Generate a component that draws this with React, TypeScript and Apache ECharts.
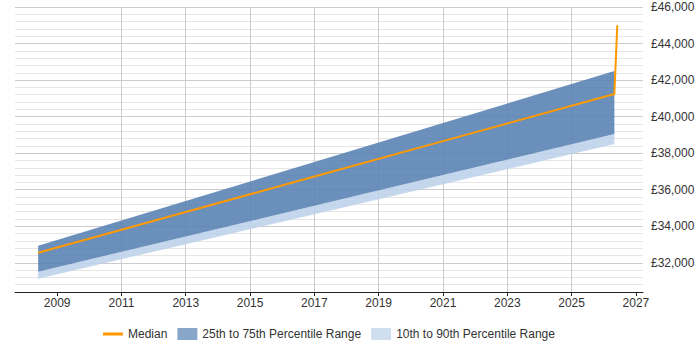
import React, { useEffect, useRef } from "react";
import * as echarts from "echarts";

// Years (fractional) at which values were read
const bandYears = [2008.41, 2013, 2017, 2021, 2026.33];
const p10 = [31130, 33020, 34660, 36300, 38500];
const p25 = [31510, 33440, 35120, 36800, 39050];
const p75 = [32930, 35380, 37520, 39650, 42500];
const p90 = [32930, 35380, 37520, 39650, 42500];

const medianYears = [2008.41, 2013, 2017, 2021, 2026.33, 2026.42];
const median = [32550, 34780, 36720, 38660, 41240, 45000];

const xTickYears = [2009, 2011, 2013, 2015, 2017, 2019, 2021, 2023, 2025, 2027];
const BASE_YEAR = 2009;
const X_MIN_YEAR = 2007.69;
const X_MAX_YEAR = 2027.22;

const Y_MIN = 30400;
const Y_MAX = 46000;

const FONT = "'Liberation Sans', Arial, sans-serif";

export default function App() {
  const ref = useRef<HTMLDivElement>(null);

  useEffect(() => {
    if (!ref.current) return;
    const chart = echarts.init(ref.current, undefined, { renderer: "svg" });
    const toX = (y: number) => +(y - BASE_YEAR).toFixed(4);

    const bandSeries = (name: string, lo: number[], hi: number[], color: string, z: number) => ({
      name,
      type: "custom",
      silent: true,
      z,
      itemStyle: { color },
      encode: { x: 0, y: [1, 2] },
      data: bandYears.map((y, i) => [toX(y), lo[i], hi[i]]),
      renderItem: (params: any, api: any) => {
        if (params.dataIndex !== 0) return null;
        const pts: number[][] = [];
        for (let i = 0; i < bandYears.length; i++) pts.push(api.coord([toX(bandYears[i]), hi[i]]));
        for (let i = bandYears.length - 1; i >= 0; i--) pts.push(api.coord([toX(bandYears[i]), lo[i]]));
        return {
          type: "polygon",
          shape: { points: pts },
          style: { fill: color, opacity: 0.87 },
        };
      },
    });

    const option: any = {
      animation: false,
      grid: { left: 15, right: 57, top: 7, bottom: 58, containLabel: false },
      legend: {
        left: 98,
        top: 323,
        itemWidth: 20,
        itemHeight: 12,
        itemGap: 10,
        textStyle: { fontFamily: FONT, fontSize: 12, color: "#333" },
        data: [
          { name: "Median", icon: "path://M0,0H20V3H0Z", itemStyle: { color: "#ff9900" } },
          { name: "25th to 75th Percentile Range", icon: "rect", itemStyle: { color: "#87a6c8" } },
          { name: "10th to 90th Percentile Range", icon: "rect", itemStyle: { color: "#cfdff0" } },
        ],
      },
      xAxis: {
        type: "value",
        min: toX(X_MIN_YEAR),
        max: toX(X_MAX_YEAR),
        interval: 2,
        axisLine: { show: true, lineStyle: { color: "#222", width: 1 } },
        axisTick: {
          show: true,
          length: 4,
          lineStyle: { color: "#222" },
          customValues: xTickYears.map(toX),
        },
        axisLabel: {
          fontFamily: FONT,
          fontSize: 12,
          color: "#333",
          margin: 5,
          customValues: xTickYears.map(toX),
          formatter: (v: number) => String(Math.round(v + BASE_YEAR)),
        },
        splitLine: {
          show: true,
          showMinLine: false,
          showMaxLine: false,
          lineStyle: { color: "#cccccc", width: 1 },
        },
      },
      yAxis: {
        type: "value",
        position: "right",
        min: Y_MIN,
        max: Y_MAX,
        interval: 400,
        axisLine: { show: false },
        axisTick: { show: false },
        axisLabel: {
          fontFamily: FONT,
          fontSize: 12,
          color: "#333",
          margin: 8,
          formatter: (v: number) =>
            v % 2000 === 0 ? "£" + v.toLocaleString("en-GB") : "",
        },
        splitLine: {
          show: true,
          lineStyle: {
            color: ["#e6e6e6", "#e6e6e6", "#e6e6e6", "#e6e6e6", "#cccccc"],
            width: 1,
          },
        },
      },
      series: [
        bandSeries("10th to 90th Percentile Range", p10, p25, "#bbd1e9", 2),
        bandSeries("10th to 90th Percentile Range", p75, p90, "#bbd1e9", 2),
        bandSeries("25th to 75th Percentile Range", p25, p75, "#5580b1", 3),
        {
          name: "Median",
          type: "line",
          symbol: "none",
          silent: true,
          lineStyle: { color: "#ff9900", width: 2 },
          itemStyle: { color: "#ff9900" },
          data: medianYears.map((y, i) => [toX(y), median[i]]),
          z: 5,
        },
      ],
    };
    chart.setOption(option);
    return () => chart.dispose();
  }, []);

  return (
    <div
      ref={ref}
      style={{ position: "absolute", left: 0, top: 0, width: 700, height: 350 }}
    />
  );
}
